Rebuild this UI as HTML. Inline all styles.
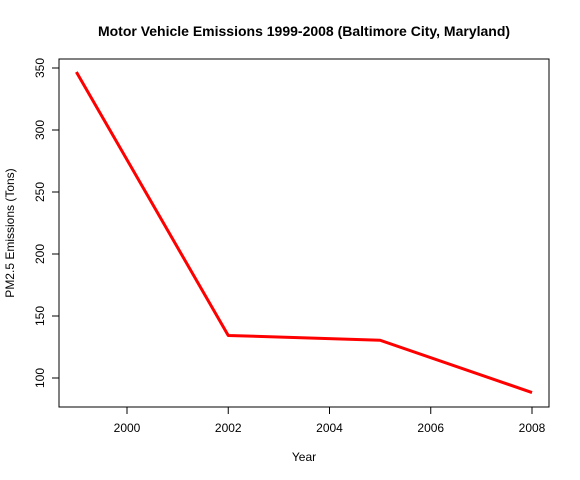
<!DOCTYPE html>
<html><head><meta charset="utf-8"><style>
body{margin:0;background:#fff;}
svg{display:block;font-family:"Liberation Sans",Arial,sans-serif;}
</style></head><body>
<svg id="c" width="580" height="480"></svg>
<script>
const years = [1999, 2002, 2005, 2008];
const emissions = [346.82, 134.31, 130.43, 88.28];
const xTicks = [2000, 2002, 2004, 2006, 2008];
const yTicks = [100, 150, 200, 250, 300, 350];

const NS = "http://www.w3.org/2000/svg";
const svg = document.getElementById("c");
const L = 59, R = 549, T = 59, B = 407;
const x = v => 127 + (v - 2000) * (532 - 127) / 8;
const y = v => 378 - (v - 100) * (378 - 68) / 250;
function mk(tag, attrs, parent) {
  const e = document.createElementNS(NS, tag);
  for (const k in attrs) e.setAttribute(k, attrs[k]);
  (parent || svg).appendChild(e);
  return e;
}
const title = mk("text", {x: 304, y: 36, "text-anchor": "middle", "font-size": 14, "font-weight": "bold"});
title.textContent = "Motor Vehicle Emissions 1999-2008 (Baltimore City, Maryland)";



const frame = mk("rect", {x: L, y: T, width: R - L, height: B - T, fill: "none", stroke: "#000", "stroke-width": 1});



const xa = mk("g", {});


mk("line", {x1: x(xTicks[0]), x2: x(xTicks[xTicks.length - 1]), y1: B, y2: B, stroke: "#000"}, xa);
xTicks.forEach(t => {
  mk("line", {x1: x(t), x2: x(t), y1: B, y2: B + 7, stroke: "#000"}, xa);
  const tx = mk("text", {x: x(t), y: B + 25, "text-anchor": "middle", "font-size": 12}, xa);
  tx.textContent = t;
  
  
});
const ya = mk("g", {});


mk("line", {x1: L, x2: L, y1: y(yTicks[0]), y2: y(yTicks[yTicks.length - 1]), stroke: "#000"}, ya);
yTicks.forEach(t => {
  mk("line", {x1: L - 7, x2: L, y1: y(t), y2: y(t), stroke: "#000"}, ya);
  const tx = mk("text", {x: 0, y: 0, "text-anchor": "middle", "font-size": 12,
    transform: `translate(${L - 15},${y(t)}) rotate(-90)`}, ya);
  tx.textContent = t;
  
  
});
const xt = mk("text", {x: 304, y: 461, "text-anchor": "middle", "font-size": 12});
xt.textContent = "Year";


const yt = mk("text", {x: 0, y: 0, "text-anchor": "middle", "font-size": 12, transform: "translate(14,233) rotate(-90)"});
yt.textContent = "PM2.5 Emissions (Tons)";



const pts = years.map((yr, i) => x(yr) + "," + y(emissions[i])).join(" ");
const line = mk("polyline", {points: pts, fill: "none", stroke: "#ff0000", "stroke-width": 3, "stroke-linejoin": "round"});


</script>
</body></html>
